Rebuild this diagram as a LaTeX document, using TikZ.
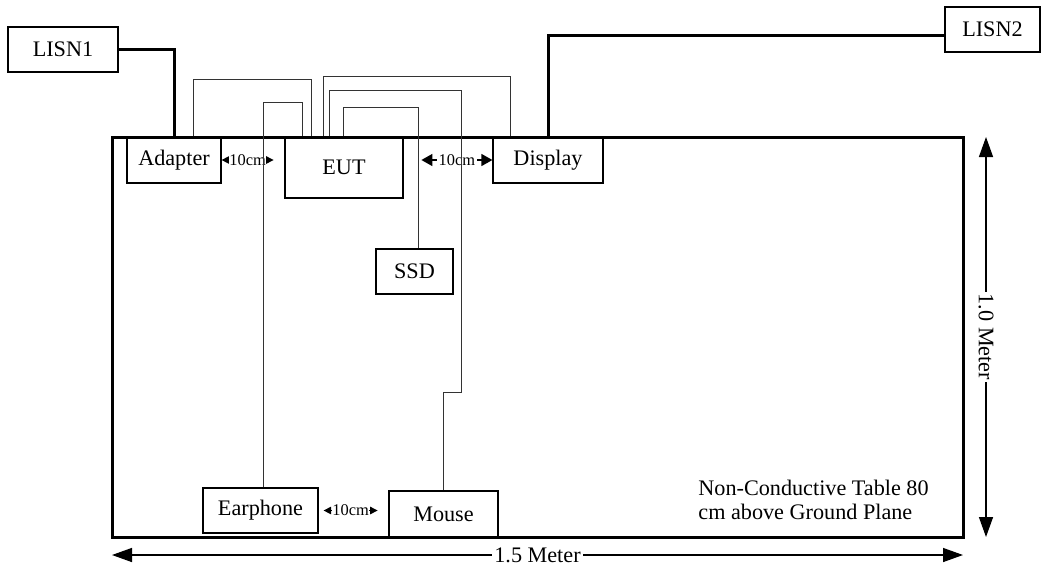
\documentclass[tikz,border=0pt]{standalone}
\usepackage{fontspec}
\setmainfont{Liberation Serif}
\usetikzlibrary{positioning,calc,arrows.meta}
\newcommand{\boxfont}{\fontsize{11.1}{13}\selectfont}
\newcommand{\gapfont}{\fontsize{8.2}{9}\selectfont}

\begin{document}
\begin{tikzpicture}[x=0.5pt,y=-0.5pt,
    device/.style={draw, line width=0.6pt, inner sep=0pt, font=\boxfont},
    power/.style={line width=1.5pt},
    cable/.style={line width=0.5pt, black!80},
    gapsmall/.style={line width=0.5pt, {Triangle[length=3.8pt,width=3.8pt]}-{Triangle[length=3.8pt,width=3.8pt]}},
    gapbig/.style={line width=0.7pt, {Triangle[length=5.5pt,width=6pt]}-{Triangle[length=5.5pt,width=6pt]}},
    meter/.style={line width=0.7pt, {Triangle[length=10pt,width=7pt]}-{Triangle[length=10pt,width=7pt]}}]
    \useasboundingbox (0,0) rectangle (1045,569);

    % Table
    \draw[line width=1.5pt] (112,137) rectangle (963,537);

    % Devices
    \node[device, minimum width=55pt, minimum height=22.5pt] (lisn1) at (63,49.5) {LISN1};
    \node[device, minimum width=47.5pt, minimum height=22.5pt] (lisn2) at (992.5,29.5) {LISN2};
    \node[device, minimum width=47pt, minimum height=23pt] (adapter) at (174,160) {Adapter};
    \node[device, minimum width=59pt, minimum height=30.5pt] (eut) at (344,167.5) {EUT};
    \node[device, minimum width=55pt, minimum height=23pt] (display) at (548,160) {Display};
    \node[device, minimum width=38.5pt, minimum height=22.5pt] (ssd) at (414.5,271.5) {SSD};
    \node[device, minimum width=57.5pt, minimum height=22.5pt] (earphone) at (260.5,510.5) {Earphone};
    \node[device, minimum width=54.5pt, minimum height=23pt] (mouse) at (443.5,514) {Mouse};

    % Power cables
    \draw[power] (lisn1.east) -| (adapter.north);
    \draw[power] (display.north) |- ($(lisn2.west)+(0,5.5)$);

    % Spacing
    \draw[gapsmall] (adapter.east) -- ++(52,0) node[midway, fill=white, inner sep=0pt, font=\gapfont] {10cm};
    \draw[gapbig] ($(display.west)+(-71,0)$) -- (display.west) node[midway, fill=white, inner sep=1pt, font=\gapfont] {10cm};
    \draw[gapsmall] ($(earphone.east)+(5,0)$) -- ++(54,0) node[midway, fill=white, inner sep=0pt, font=\gapfont] {10cm};

    % Signal cables
    \draw[cable] ($(adapter.north west)+(67,0)$) -- ++(0,-57) -| ($(eut.north west)+(27,0)$);
    \draw[cable] ($(earphone.north)+(2.5,0)$) -- ++(0,-385) -| ($(eut.north west)+(18,0)$);
    \draw[cable] ($(eut.north west)+(39,0)$) -- ++(0,-60) -| ($(display.north west)+(18,0)$);
    \draw[cable] ($(eut.north west)+(45,0)$) -- ++(0,-46) -- ++(132,0) -- ++(0,302) -| (mouse.north);
    \draw[cable] ($(eut.north west)+(59,0)$) -- ++(0,-29) -| ($(ssd.north)+(3.5,0)$);

    % Dimensions
    \coordinate (tl) at (112,555);
    \coordinate (tr) at (963,555);
    \draw[meter] (tl) -- (tr) node[midway, fill=white, inner sep=1pt, font=\boxfont] {1.5 Meter};
    \coordinate (rt) at (986,137);
    \coordinate (rb) at (986,537);
    \draw[meter] (rt) -- (rb) node[midway, rotate=-90, fill=white, inner sep=1pt, font=\boxfont] {1.0 Meter};

    % Note
    \node[anchor=west, align=left, inner sep=0pt, font=\fontsize{11.1}{12}\selectfont] (note) at (698,500) {Non-Conductive Table 80\\cm above Ground Plane};
\end{tikzpicture}
\end{document}
